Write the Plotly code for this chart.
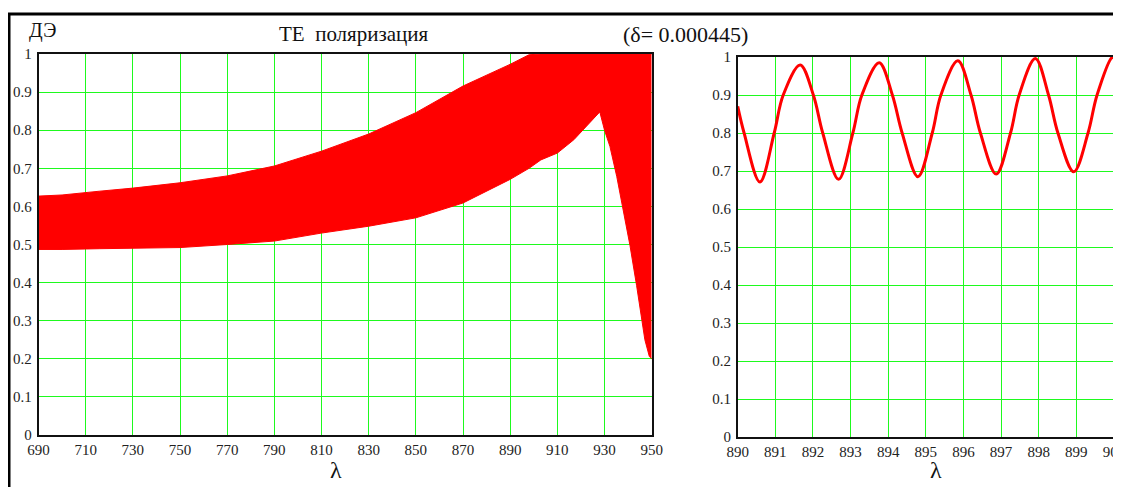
import plotly.graph_objects as go

# ---- Left panel: envelope of the dense oscillation ----
lam_env = [690, 700, 716, 730, 750, 770, 790, 810, 830, 850, 870, 890, 898, 903, 910,
           917, 924, 928, 930, 932.3, 935.2, 938, 940.8, 943.6, 945.7, 947.1, 949, 950]
de_upper = [0.627, 0.630, 0.640, 0.648, 0.662, 0.680, 0.706, 0.745, 0.790, 0.846, 0.916,
            0.973, 0.998, 1.0, 1.0, 1.0, 1.0, 1.0, 1.0, 1.0, 1.0, 1.0, 1.0, 1.0, 1.0, 1.0, 1.0, 1.0]
de_lower = [0.487, 0.487, 0.489, 0.490, 0.492, 0.500, 0.509, 0.530, 0.548, 0.570, 0.609,
            0.671, 0.700, 0.722, 0.740, 0.775, 0.822, 0.848, 0.800, 0.757, 0.678, 0.591,
            0.497, 0.392, 0.304, 0.250, 0.206, 0.200]

# ---- Right panel: zoomed curve 890..900 ----
lam_zoom = [890.0, 890.17, 890.59, 890.97, 891.21, 891.66, 892.01, 892.26, 892.68, 893.06,
            893.30, 893.76, 894.11, 894.37, 894.79, 895.17, 895.40, 895.85, 896.20, 896.45,
            896.87, 897.25, 897.48, 897.91, 898.26, 898.51, 898.93, 899.31, 899.55, 899.95, 900.0]
de_zoom = [0.870, 0.800, 0.671, 0.800, 0.900, 0.979, 0.900, 0.800, 0.678, 0.800,
           0.900, 0.985, 0.900, 0.800, 0.685, 0.800, 0.900, 0.990, 0.900, 0.800,
           0.692, 0.800, 0.900, 0.996, 0.900, 0.800, 0.698, 0.800, 0.900, 0.999, 0.998]

x1_ticks = list(range(690, 951, 20))
x2_ticks = list(range(890, 901, 1))
y_ticks = [0, 0.1, 0.2, 0.3, 0.4, 0.5, 0.6, 0.7, 0.8, 0.9, 1]
y_labels = ["0", "0.1", "0.2", "0.3", "0.4", "0.5", "0.6", "0.7", "0.8", "0.9", "1"]

RED = "#ff0000"
GRID = "rgb(30,250,30)"
SERIF = "Times New Roman, Liberation Serif, DejaVu Serif, serif"
W, H = 1121, 487
OFF = 8  # page body margin offset

fig = go.Figure()
fig.add_trace(go.Scatter(x=lam_env, y=de_lower, mode="lines",
                         line=dict(color=RED, width=1), xaxis="x", yaxis="y",
                         hoverinfo="skip", showlegend=False))
fig.add_trace(go.Scatter(x=lam_env, y=de_upper, mode="lines", fill="tonexty",
                         fillcolor=RED, line=dict(color=RED, width=1),
                         xaxis="x", yaxis="y", showlegend=False))
fig.add_trace(go.Scatter(x=lam_zoom, y=de_zoom, mode="lines",
                         line=dict(color=RED, width=3, shape="spline", smoothing=1.0),
                         xaxis="x2", yaxis="y2", showlegend=False))

def px_x(p):
    return (p - OFF) / W

def px_y(p):
    return (H - (p - OFF)) / H

axis_common = dict(showgrid=True, gridcolor=GRID, gridwidth=1.2, zeroline=False,
                   showline=True, linecolor="#111", linewidth=1.5, mirror=True,
                   ticks="", automargin=False,
                   tickfont=dict(family=SERIF, size=15, color="#222"))

fig.update_layout(
    width=W, height=H, paper_bgcolor="white", plot_bgcolor="white",
    margin=dict(l=0, r=0, t=0, b=0, autoexpand=False),
    font=dict(family=SERIF),
    xaxis=dict(domain=[px_x(38.5), px_x(651.7)], range=[690, 950], tickvals=x1_ticks,
               anchor="y", **axis_common),
    yaxis=dict(domain=[px_y(435), px_y(54)], range=[0, 1], tickvals=y_ticks,
               ticktext=y_labels, anchor="x", ticklabelstandoff=2, **axis_common),
    xaxis2=dict(domain=[px_x(737.7), px_x(1114)], range=[890, 900], tickvals=x2_ticks,
                anchor="y2", **axis_common),
    yaxis2=dict(domain=[px_y(437), px_y(57)], range=[0, 1], tickvals=y_ticks,
                ticktext=y_labels, anchor="x2", ticklabelstandoff=2, **axis_common),
    showlegend=False,
)

# outer frame (top and left thick black lines)
fig.add_shape(type="line", xref="paper", yref="paper", x0=px_x(8), x1=1.0,
              y0=px_y(14), y1=px_y(14), line=dict(color="black", width=3))
fig.add_shape(type="line", xref="paper", yref="paper", x0=px_x(9), x1=px_x(9),
              y0=px_y(14), y1=0, line=dict(color="black", width=3))

def note(text, x, y, size):
    fig.add_annotation(text=text, xref="paper", yref="paper", x=px_x(x), y=px_y(y),
                       showarrow=False, xanchor="center", yanchor="middle",
                       font=dict(family=SERIF, size=size, color="#111"))

note("ДЭ", 42, 31, 20)
note("TE  поляризация", 354, 34, 21)
note("(δ= 0.000445)", 685, 34, 22)
note("λ", 336, 470, 24)
note("λ", 936, 470, 24)

fig.write_html("out.html")
